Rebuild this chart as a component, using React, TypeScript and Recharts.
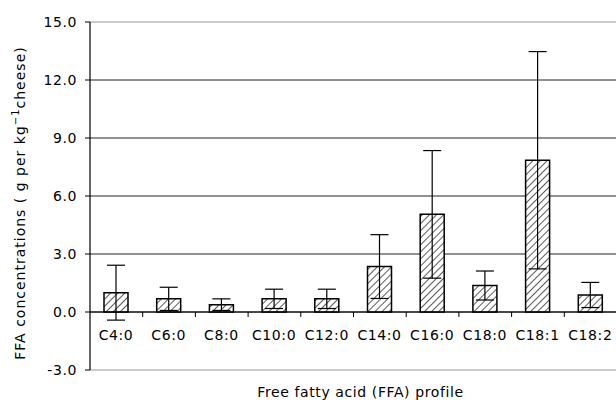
import React from 'react';
import {
  BarChart,
  Bar,
  XAxis,
  YAxis,
  CartesianGrid,
  ReferenceLine,
  ErrorBar,
  LabelList,
  Label,
} from 'recharts';

const categories = ['C4:0', 'C6:0', 'C8:0', 'C10:0', 'C12:0', 'C14:0', 'C16:0', 'C18:0', 'C18:1', 'C18:2'];
const means = [1.0, 0.68, 0.38, 0.68, 0.68, 2.35, 5.05, 1.37, 7.85, 0.88];
const errors = [1.42, 0.6, 0.3, 0.5, 0.5, 1.65, 3.3, 0.75, 5.62, 0.65];
const yTicks = [-3, 0, 3, 6, 9, 12, 15];

const FONT = '"DejaVu Sans", Arial, sans-serif';
const FS = 14;
const LS = 0.6;

const data = categories.map((name, i) => ({ name, mean: means[i], err: errors[i] }));

// x axis sits on the zero line, with ticks at the category borders
const ZeroAxis = (props: any) => {
  const { x1, x2, y1 } = props;
  const step = (x2 - x1) / categories.length;
  return (
    <g>
      <line x1={x1} x2={x2} y1={y1} y2={y1} stroke="#000" strokeWidth={1.2} />
      {categories.map((_, i) => (
        <line key={i} x1={x1 + step * (i + 1)} x2={x1 + step * (i + 1)} y1={y1} y2={y1 + 5} stroke="#000" />
      ))}
    </g>
  );
};

const CatLabel = (props: any) => {
  const { x, y, width, height, value } = props;
  return (
    <text
      x={x + width / 2}
      y={y + height + 28}
      textAnchor="middle"
      fontFamily={FONT}
      fontSize={FS}
      letterSpacing={LS}
      fill="#000"
    >
      {value}
    </text>
  );
};

const YTitle = (props: any) => {
  const vb = props.viewBox;
  const cx = 20;
  const cy = vb.y + vb.height / 2 + 7;
  return (
    <text
      x={cx}
      y={cy}
      transform={`rotate(-90, ${cx}, ${cy})`}
      textAnchor="middle"
      dominantBaseline="central"
      fontFamily={FONT}
      fontSize={FS}
      letterSpacing={1}
      fill="#000"
    >
      <tspan>FFA concentrations  ( g per kg</tspan>
      <tspan dy={-5} fontSize={10}>−1</tspan>
      <tspan dy={5}>cheese)</tspan>
    </text>
  );
};

const XTitle = (props: any) => {
  const vb = props.viewBox;
  return (
    <text
      x={vb.x + vb.width / 2 + 7}
      y={vb.y + 27}
      textAnchor="middle"
      fontFamily={FONT}
      fontSize={FS}
      letterSpacing={LS}
      fill="#000"
    >
      Free fatty acid (FFA) profile
    </text>
  );
};

export default function App() {
  return (
    <div style={{ position: 'absolute', top: 0, left: 0, width: 616, height: 400, overflow: 'hidden', background: '#fff' }}>
      <BarChart width={640} height={400} data={data} margin={{ top: 22, right: 23, left: 0, bottom: 0 }}>
        <defs>
          <pattern id="hatch" width="5" height="5" patternUnits="userSpaceOnUse" patternTransform="rotate(45)">
            <rect width="5" height="5" fill="#fff" />
            <line x1="0" y1="0" x2="0" y2="5" stroke="#000" strokeWidth={1.3} />
          </pattern>
        </defs>
        <CartesianGrid
          vertical={false}
          stroke="#222"
          horizontalValues={yTicks.filter((t) => t > -3 && t < 15)}
        />
        <XAxis dataKey="name" tick={false} axisLine={false} tickLine={false} height={30}>
          <Label content={XTitle} />
        </XAxis>
        <YAxis
          width={90}
          domain={[-3, 15]}
          ticks={yTicks}
          interval={0}
          tickFormatter={(v: number) => v.toFixed(1)}
          axisLine={{ stroke: '#000', strokeWidth: 1.2 }}
          tickLine={{ stroke: '#000' }}
          tickSize={5}
          tickMargin={8}
          tick={{ fill: '#000', fontFamily: FONT, fontSize: FS, letterSpacing: LS }}
        >
          <Label content={YTitle} />
        </YAxis>
        <ReferenceLine y={15} stroke="#999" />
        <ReferenceLine y={-3} stroke="#999" />
        <Bar dataKey="mean" barSize={24} fill="url(#hatch)" stroke="#000" strokeWidth={1.5} isAnimationActive={false}>
          <ErrorBar dataKey="err" width={9} stroke="#000" strokeWidth={1.2} />
          <LabelList dataKey="name" content={CatLabel} />
        </Bar>
        <ReferenceLine y={0} shape={ZeroAxis} />
      </BarChart>
    </div>
  );
}
